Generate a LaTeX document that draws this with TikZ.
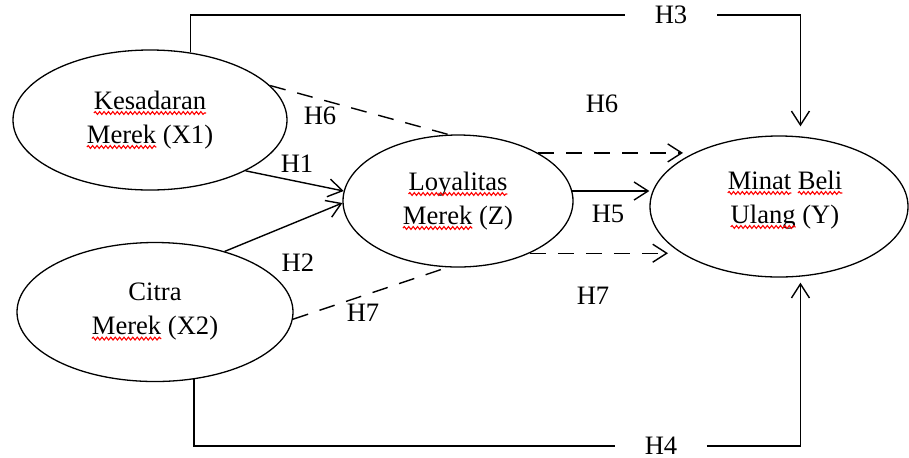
\documentclass[tikz,border=0pt]{standalone}
\usepackage{fontspec}
\setmainfont{Liberation Serif}
\usetikzlibrary{shapes.geometric,arrows.meta,decorations.pathmorphing}
\newcommand\sqw[1]{\tikz[baseline=(sqwn.base)]{\node[shape=rectangle,draw=none,fill=none,inner sep=0pt,outer sep=0pt,minimum width=0pt,minimum height=0pt] (sqwn) {#1};\draw[overlay,solid,-,red,line width=0.55pt,decorate,decoration={snake,amplitude=0.7pt,segment length=2.2pt}] ([yshift=-1.8pt]sqwn.base west) -- ([yshift=-1.8pt]sqwn.base east);}}
\begin{document}
\begin{tikzpicture}[x=0.5pt,y=-0.5pt,
  var/.style={draw,ellipse,line width=0.65pt,inner sep=0pt,align=center,font=\fontsize{13.3}{17}\selectfont},
  vtext/.style={inner sep=0pt,align=center,font=\fontsize{13.3}{17}\selectfont},
  conn/.style={line width=0.7pt},
  arr/.style={conn,-{Straight Barb[length=7pt,width=9pt,line width=0.7pt]}},
  dsh/.style={dash pattern=on 8pt off 6pt},
  hlab/.style={font=\fontsize{13.3}{15}\selectfont,inner sep=0pt}]
\useasboundingbox (0,0) rectangle (909,457);
% variables
\node[var,minimum width=137pt,minimum height=70pt] (X1) at (150,120) {\sqw{Kesadaran}\\\sqw{Merek} (X1)};
\node[var,minimum width=138pt,minimum height=69.5pt] (X2) at (155,312) {Citra\\\sqw{Merek} (X2)};
\node[var,minimum width=115pt,minimum height=66pt] (Z) at (458,201) {\sqw{Loyalitas}\\\sqw{Merek} (Z)};
\node[draw,ellipse,line width=0.65pt,inner sep=0pt,minimum width=129pt,minimum height=70.5pt] (Y) at (779,206.5) {};
\node[vtext] (Ytext) at (785,200) {\sqw{Minat} \sqw{Beli}\\\sqw{Ulang} (Y)};
% labels on the long paths
\node[hlab,minimum width=46pt] (h3) at (671,15) {H3};
\node[hlab,minimum width=45.5pt] (h4) at (661,446) {H4};
% free ends
\coordinate (h6tip) at (683,153);
\coordinate (h7tip) at (668,254);
% H3 and H4
\draw[conn] (X1.59) |- (h3.west);
\draw[arr,shorten >=5pt] (h3.east) -| (Y.73);
\draw[conn] (X2.-60) |- (h4.west);
\draw[arr,shorten >=3pt] (h4.east) -| (Y.-73);
% direct paths
\draw[arr] (X1.-28) -- (Z.175);
\draw[arr] (X2.41.6) -- (Z.181);
\draw[arr] (Z.5) -- (Z.5 -| Y.west);
% mediated paths
\draw[conn,dsh] (X1.16) -- (Z.98);
\draw[arr,dsh] (Z.31) -- (Z.31 -| h6tip);
\draw[conn,dsh] (X2.-3.3) -- (Z.261);
\draw[arr,dsh] (Z.-36) -- (Z.-36 -| h7tip);
% hypothesis labels
\node[hlab] (lh1) at (297,164) {H1};
\node[hlab] (lh2) at (298,263) {H2};
\node[hlab] (lh6a) at (320,116) {H6};
\node[hlab] (lh6b) at (602,104) {H6};
\node[hlab] (lh5) at (608,214) {H5};
\node[hlab] (lh7a) at (363,313) {H7};
\node[hlab] (lh7b) at (593,296) {H7};
\end{tikzpicture}
\end{document}
